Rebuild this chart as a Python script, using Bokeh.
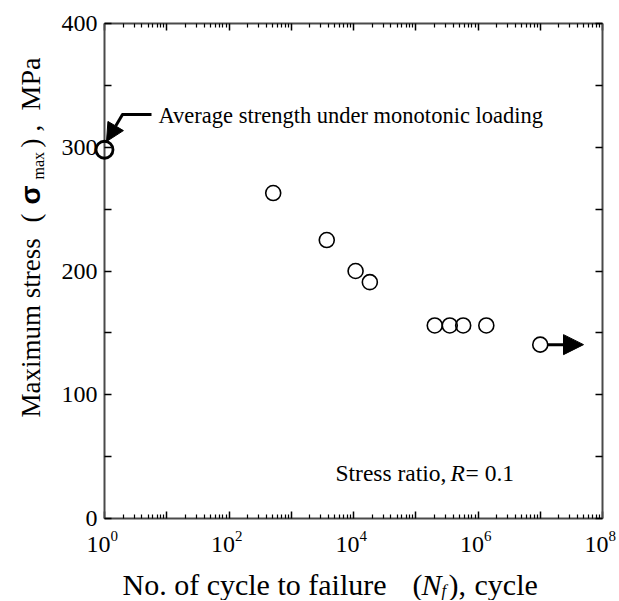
import math
from bokeh.plotting import figure
from bokeh.models import (FixedTicker, LinearAxis, LogAxis, Arrow, NormalHead,
                          CustomJSTickFormatter, Range1d)
from bokeh.core.properties import value
from bokeh.embed import file_html
from bokeh.resources import INLINE

# ---------------- data ----------------
cycles = [5.13e2, 3.72e3, 1.08e4, 1.83e4, 2.02e5, 3.52e5, 5.78e5, 1.36e6]
stress = [263, 225, 200, 191, 156, 156, 156, 156]
mono_cycles = [1]
mono_stress = [298]
runout_cycles = [1.0e7]
runout_stress = [140.5]
x_label_exponents = [0, 2, 4, 6, 8]
y_major = [0, 100, 200, 300, 400]
y_minor = [50, 150, 250, 350]

FONT = "Liberation Serif"
AXC = "#4a4a4a"
W, H = 617, 600
FL, FR, FT, FB = 104, 602, 23, 518   # frame edges in picture pixels
XMIN, XMAX, YMIN, YMAX = 1.0, 1e8, 0.0, 400.0


def xd(px):
    return 10 ** (math.log10(XMIN) + (px - FL) / (FR - FL) * (math.log10(XMAX) - math.log10(XMIN)))


def yd(py):
    return YMIN + (FB - py) / (FB - FT) * (YMAX - YMIN)


p = figure(width=W, height=H, x_axis_type="log",
           x_range=Range1d(XMIN, XMAX), y_range=Range1d(YMIN, YMAX),
           output_backend="svg", toolbar_location=None,
           min_border_left=FL, min_border_right=W - FR,
           min_border_top=FT, min_border_bottom=H - FB)
p.grid.visible = False
p.outline_line_color = None
p.background_fill_color = "white"
p.border_fill_color = "white"

blank = CustomJSTickFormatter(code="return ''")
dec_ticks = [10.0 ** k for k in range(0, 9)]
minor_x = [m * 10.0 ** k for k in range(0, 8) for m in range(2, 10)]


def style_common(ax):
    ax.axis_line_color = AXC
    ax.axis_line_width = 2
    ax.major_tick_line_color = "black"
    ax.major_tick_line_width = 1.5
    ax.minor_tick_line_color = "black"
    ax.minor_tick_line_width = 1.2
    ax.major_tick_out = 0
    ax.minor_tick_out = 0


def style_x(ax):
    style_common(ax)
    ax.ticker = FixedTicker(ticks=dec_ticks, minor_ticks=minor_x)
    ax.formatter = blank
    ax.major_tick_in = 7
    ax.minor_tick_in = 4
    ax.major_label_standoff = 0


def style_y(ax, labels):
    style_common(ax)
    ax.ticker = FixedTicker(ticks=sorted(y_major + y_minor))
    ax.major_tick_in = 7
    if labels:
        ax.major_label_overrides = {v: "" for v in y_minor}
        ax.major_label_text_font = FONT
        ax.major_label_text_font_size = "24px"
        ax.major_label_text_color = "black"
        ax.major_label_standoff = 7
    else:
        ax.formatter = blank
        ax.major_label_standoff = 0


style_x(p.xaxis[0])
style_y(p.yaxis[0], True)
top = LogAxis()
style_x(top)
p.add_layout(top, "above")
right = LinearAxis()
style_y(right, False)
p.add_layout(right, "right")


def txt(x, y, s, size, font=FONT, style="normal", align="left",
        angle=0.0, x_offset=0):
    p.text(x=[x], y=[y], text=[s], text_font=value(font), text_font_size=value(size),
           text_font_style=style, text_align=align, text_baseline="middle", angle=angle,
           x_offset=x_offset, text_color="black", level="overlay")


# ---------------- points ----------------
p.scatter(cycles, stress, marker="circle", size=15, fill_color=None,
          line_color="black", line_width=1.6, level="overlay")
p.scatter(runout_cycles, runout_stress, marker="circle", size=15, fill_color=None,
          line_color="black", line_width=1.6, level="overlay")
p.scatter(mono_cycles, mono_stress, marker="circle", size=17, fill_color=None,
          line_color="black", line_width=2.8, level="overlay")

# run-out arrow
p.add_layout(Arrow(end=NormalHead(size=20, fill_color="black", line_color="black"),
                   x_start=xd(547), y_start=runout_stress[0],
                   x_end=xd(583), y_end=runout_stress[0],
                   line_color="black", line_width=3))

# annotation arrow toward monotonic strength
p.add_layout(Arrow(end=None, x_start=xd(151), y_start=yd(114), x_end=xd(121), y_end=yd(114),
                   line_color="black", line_width=3))
p.add_layout(Arrow(end=NormalHead(size=18, fill_color="black", line_color="black"),
                   x_start=xd(122), y_start=yd(114), x_end=xd(106), y_end=yd(141),
                   line_color="black", line_width=3))
txt(xd(158), yd(115), "Average strength under monotonic loading", "22.5px")

# stress ratio text
txt(xd(335), yd(472), "Stress ratio,", "23.5px")
txt(xd(450), yd(472), "R", "23.5px", style="italic")
txt(xd(465), yd(472), "= 0.1", "23.5px")

# x tick labels 10^n
for k in x_label_exponents:
    txt(10.0 ** k, yd(544), "10", "24px", align="right", x_offset=6)
    txt(10.0 ** k, yd(535), str(k), "15px", align="left", x_offset=6)

# x axis title
XC = 584
txt(xd(122), yd(XC), "No. of cycle to failure", "30px")
txt(xd(412), yd(XC), "(", "30px")
txt(xd(421), yd(XC), "N", "30px", style="italic")
txt(xd(441), yd(XC + 6), "f", "17px", style="italic")
txt(xd(448), yd(XC), "),", "30px")
txt(xd(474), yd(XC), "cycle", "30px")

# y axis title (rotated)
ROT = math.pi / 2
YX = 30
for s, py, px, size, font, style in [
    ("Maximum stress", 417, YX, "27px", FONT, "normal"),
    ("(", 222, YX, "27px", FONT, "normal"),
    ("σ", 204, YX, "28px", "Liberation Sans", "bold"),
    ("max", 179, YX + 8, "16px", FONT, "normal"),
    (")", 147, YX, "27px", FONT, "normal"),
    (",", 131, YX, "27px", FONT, "normal"),
    ("MPa", 110, YX, "28px", FONT, "normal"),
]:
    txt(xd(px), yd(py), s, size, font=font, style=style, angle=ROT)

open("out.html", "w").write(file_html(p, INLINE))
